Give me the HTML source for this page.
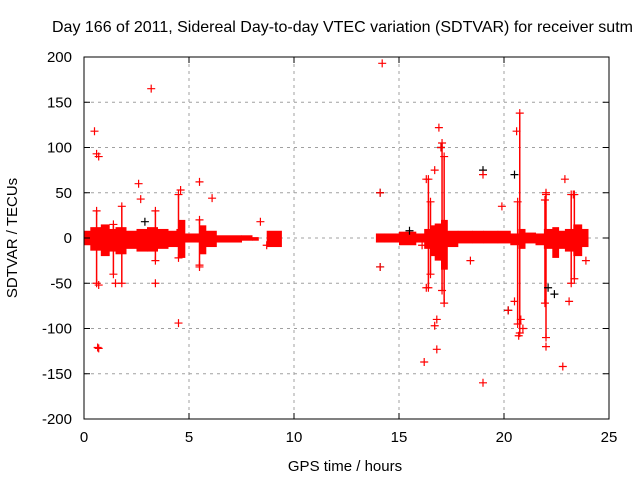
<!DOCTYPE html>
<html><head><meta charset="utf-8"><style>
body{margin:0;background:#fff;}
svg{display:block;font-family:"Liberation Sans",sans-serif;}
</style></head><body>
<svg id="chart" width="640" height="480">
<rect width="640" height="480" fill="#fff"/>
<text x="52" y="32" font-size="16" fill="#000">Day 166 of 2011, Sidereal Day-to-day VTEC variation (SDTVAR) for receiver sutm</text>
<g id="grid"></g>
<g id="plot"></g>
<rect x="84" y="57" width="525" height="362" fill="none" stroke="#000" stroke-width="1"/>
<g id="ticks"></g>
<text x="17" y="238" font-size="15" text-anchor="middle" transform="rotate(-90 17 238)">SDTVAR / TECUs</text>
<text x="345" y="471" font-size="15" text-anchor="middle">GPS time / hours</text>
</svg>
<script>
const xTicks=[0,5,10,15,20,25];
const yTicks=[200,150,100,50,0,-50,-100,-150,-200];
const bandT=[0.0,0.3,0.8,1.2,1.5,2.0,2.5,3.0,3.5,4.0,4.4,4.5,4.8,5.4,5.5,5.8,6.3,7.5,8.0,8.3,8.7,9.4,13.9,14.3,15.0,15.8,16.2,16.5,16.7,17.0,17.3,17.8,18.5,19.0,19.7,20.3,20.7,21.0,21.5,21.9,22.3,22.6,22.9,23.3,23.7,24.0];
const bandHi=[8,12,15,10,12,8,10,12,10,8,10,20,5,5,14,8,3,3,1,null,8,null,5,5,7,5,10,14,16,20,8,8,8,8,8,5,10,6,5,10,12,8,10,15,10,null];
const bandLo=[-8,-14,-20,-15,-18,-12,-15,-15,-12,-10,-10,-22,-5,-5,-18,-10,-5,-3,-3,null,-10,null,-5,-5,-8,-5,-12,-20,-25,-35,-10,-6,-6,-6,-6,-8,-12,-6,-8,-12,-22,-12,-15,-20,-10,null];
const spikeT=[0.6,1.4,1.8,3.4,4.5,5.5,16.4,17.05,17.15,16.5,20.65,20.75,21.95,22.0,23.2,23.35];
const spikeHi=[30,15,35,30,48,20,65,105,90,40,40,138,42,48,48,48];
const spikeLo=[-50,-40,-50,-25,-22,-30,-55,-58,-72,-40,-95,-105,-72,-110,-50,-45];
const ptT=[0.5,0.6,0.7,0.65,0.7,0.7,3.2,3.4,2.6,2.7,4.5,5.5,6.1,5.5,4.6,1.5,8.4,8.7,14.2,14.1,14.1,16.3,16.2,16.8,16.9,17.0,16.7,16.3,16.7,16.8,18.4,19.0,19.0,20.6,20.2,20.8,20.7,22.0,22.0,22.9,22.8,23.1,23.3,20.5,20.9,16.1,19.9,23.9];
const ptV=[118,93,90,-121,-122,-52,165,-50,60,43,-94,62,44,-32,53,-50,18,-8,193,50,-32,65,-137,-123,122,100,75,-55,-97,-90,-25,70,-160,118,-80,-90,-108,-120,50,65,-142,-70,48,-70,-100,-8,35,-25];
const blkT=[14.1,14.1,17.0,19.0,20.2,20.5,22.1,22.4,15.5,2.9];
const blkV=[50,-32,100,75,-80,70,-55,-62,8,18];

const NS='http://www.w3.org/2000/svg';
const X=h=>84+h*21, Y=v=>238-v*0.905;
function mk(tag,attrs,parent){const e=document.createElementNS(NS,tag);for(const k in attrs)e.setAttribute(k,attrs[k]);parent.appendChild(e);return e;}
const grid=document.getElementById('grid'),plot=document.getElementById('plot'),ticks=document.getElementById('ticks');
xTicks.forEach(t=>{const x=X(t);
 if(t>0&&t<25){const l=mk('line',{x1:x,x2:x,y1:57,y2:419,stroke:'#a0a0a0','stroke-dasharray':'3,4'},grid);}
 mk('line',{x1:x,x2:x,y1:419,y2:413,stroke:'#000'},ticks);mk('line',{x1:x,x2:x,y1:57,y2:63,stroke:'#000'},ticks);
 const tx=mk('text',{x:x,y:442,'font-size':15,'text-anchor':'middle'},ticks);tx.textContent=t;
 });
yTicks.forEach(v=>{const y=Y(v);
 if(v<200&&v>-200){const l=mk('line',{x1:84,x2:609,y1:y,y2:y,stroke:'#a0a0a0','stroke-dasharray':'3,4'},grid);}
 mk('line',{x1:84,x2:90,y1:y,y2:y,stroke:'#000'},ticks);mk('line',{x1:603,x2:609,y1:y,y2:y,stroke:'#000'},ticks);
 const tx=mk('text',{x:72,y:y+5,'font-size':15,'text-anchor':'end'},ticks);tx.textContent=v;
 });
for(let i=0;i<bandT.length-1;i++){if(bandHi[i]==null)continue;
 const r=mk('rect',{x:X(bandT[i]),y:Y(bandHi[i]),width:X(bandT[i+1])-X(bandT[i])+0.5,height:Y(bandLo[i])-Y(bandHi[i]),fill:'#ff0000'},plot);
 }
function cross(x,y,c){const p=mk('path',{d:`M${x-4},${y}h8M${x},${y-4}v8`,stroke:c,'stroke-width':1.2},plot);return p;}
spikeT.forEach((t,i)=>{const x=X(t);
 const l=mk('line',{x1:x,x2:x,y1:Y(spikeHi[i]),y2:Y(spikeLo[i]),stroke:'#ff0000','stroke-width':1.5},plot);
 
 [spikeHi[i],spikeLo[i]].forEach(v=>{const c=cross(x,Y(v),'#ff0000');});});
blkT.forEach((t,i)=>{const c=cross(X(t),Y(blkV[i]),'#000');});
ptT.forEach((t,i)=>{const c=cross(X(t),Y(ptV[i]),'#ff0000');});
</script>
</body></html>
